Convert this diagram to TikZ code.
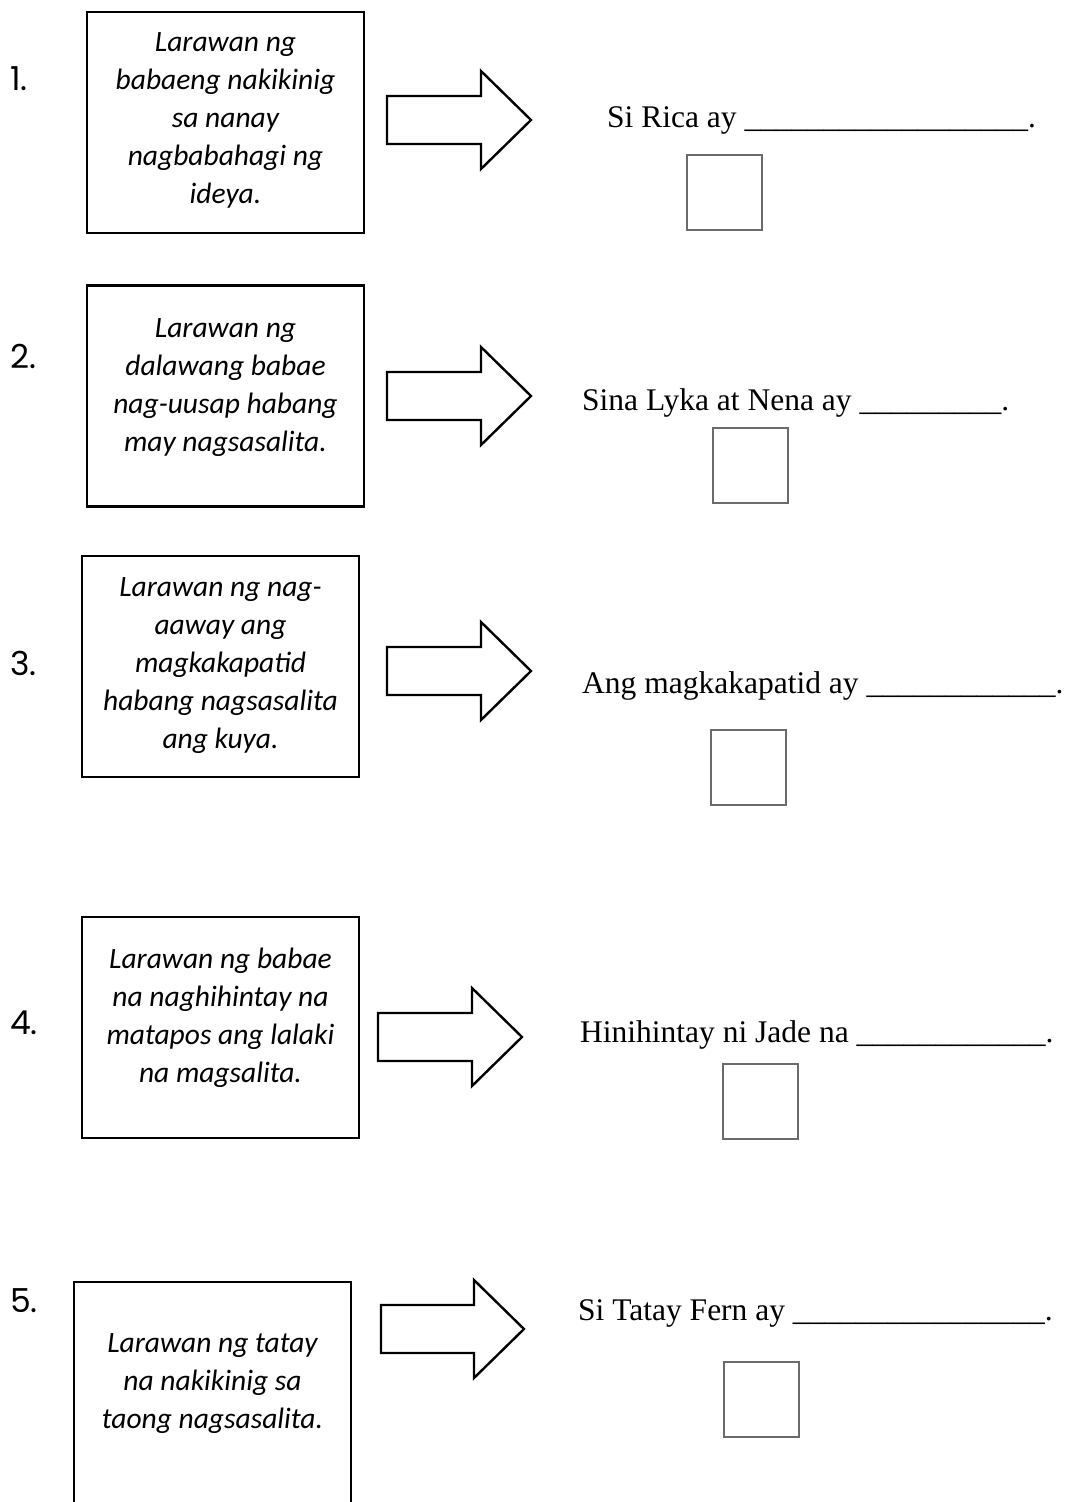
\documentclass[tikz,border=0pt]{standalone}
\usepackage{fontspec}
\setmainfont{Liberation Serif}
\newfontfamily\boxfont{Carlito}
\newfontfamily\numfamily{Poppins}
\usepackage{tikz}
\usetikzlibrary{positioning}
\definecolor{ansgray}{HTML}{6B6B6B}
\newcommand\numfont{\numfamily\fontsize{33}{40}\selectfont}
\newcommand\blank[1]{\foreach \k in {1,...,#1}{\_}}
\tikzset{
  picbox/.style={draw=black, line width=2.4pt, minimum width=277pt, minimum height=221pt, inner sep=0pt},
  pictxt/.style={align=center, inner sep=0pt, font=\boxfont\itshape\fontsize{29.5}{38}\selectfont},
  num/.style={anchor=base west, inner sep=0pt, font=\numfont},
  sent/.style={anchor=base west, inner sep=0pt, font=\fontsize{31.5}{36}\selectfont},
  ansbox/.style={draw=ansgray, line width=2pt, minimum size=75pt, inner sep=0pt},
  bigarrow/.style={draw=black, line width=2.4pt, line join=miter},
}
\begin{document}
\begin{tikzpicture}[x=1pt,y=-1pt]
\useasboundingbox (0,0) rectangle (1067,1502);

% numbers
\node[num] (n1) at (10,90) {1.};
\node[num] (n2) at (10,368) {2.};
\node[num] (n3) at (10,675) {3.};
\node[num] (n4) at (10,1034) {4.};
\node[num] (n5) at (10,1312) {5.};

% picture boxes
\node[picbox] (pic1) at (225.5,122.5) {};
\node[picbox] (pic2) at (225.5,396) {};
\node[picbox] (pic3) at (220.5,666.5) {};
\node[picbox] (pic4) at (220.5,1027.5) {};
\node[picbox] (pic5) at (212.5,1392.5) {};
\node[pictxt] (txt1) at (225.5,120) {Larawan ng\\babaeng nakikinig\\sa nanay\\nagbabahagi ng\\ideya.};
\node[pictxt] (txt2) at (225.5,388) {Larawan ng\\dalawang babae\\nag-uusap habang\\may nagsasalita.};
\node[pictxt] (txt3) at (220.5,666) {Larawan ng nag-\\aaway ang\\magkakapatid\\habang nagsasalita\\ang kuya.};
\node[pictxt] (txt4) at (220.5,1018) {Larawan ng babae\\na naghihintay na\\matapos ang lalaki\\na magsalita.};
\node[pictxt] (txt5) at (212.5,1384) {Larawan ng tatay\\na nakikinig sa\\taong nagsasalita.};

% block arrows (left end / tip)
\foreach \i/\lx/\tx/\ty in {1/387/531/120, 2/387/531/396, 3/387/531/671, 4/378/522/1037, 5/381/524/1329}{
  \coordinate (tip\i) at (\tx,\ty);
  \draw[bigarrow] (\lx,\ty-24) -- (\tx-50,\ty-24) -- (\tx-50,\ty-49) -- (tip\i)
    -- (\tx-50,\ty+49) -- (\tx-50,\ty+24) -- (\lx,\ty+24) -- cycle;
}

% sentences
\node[sent] (s1) at (607,127) {Si Rica ay \blank{18}.};
\node[sent] (s2) at (582,410) {Sina Lyka at Nena ay \blank{9}.};
\node[sent] (s3) at (582,693) {Ang magkakapatid ay \blank{12}.};
\node[sent] (s4) at (580,1042) {Hinihintay ni Jade na \blank{12}.};
\node[sent] (s5) at (578,1320) {Si Tatay Fern ay \blank{16}.};

% answer boxes
\node[ansbox] (a1) at (724.5,192) {};
\node[ansbox] (a2) at (750.5,465) {};
\node[ansbox] (a3) at (748.5,767.5) {};
\node[ansbox] (a4) at (760.5,1101.5) {};
\node[ansbox] (a5) at (761,1399.5) {};
\end{tikzpicture}
\end{document}
